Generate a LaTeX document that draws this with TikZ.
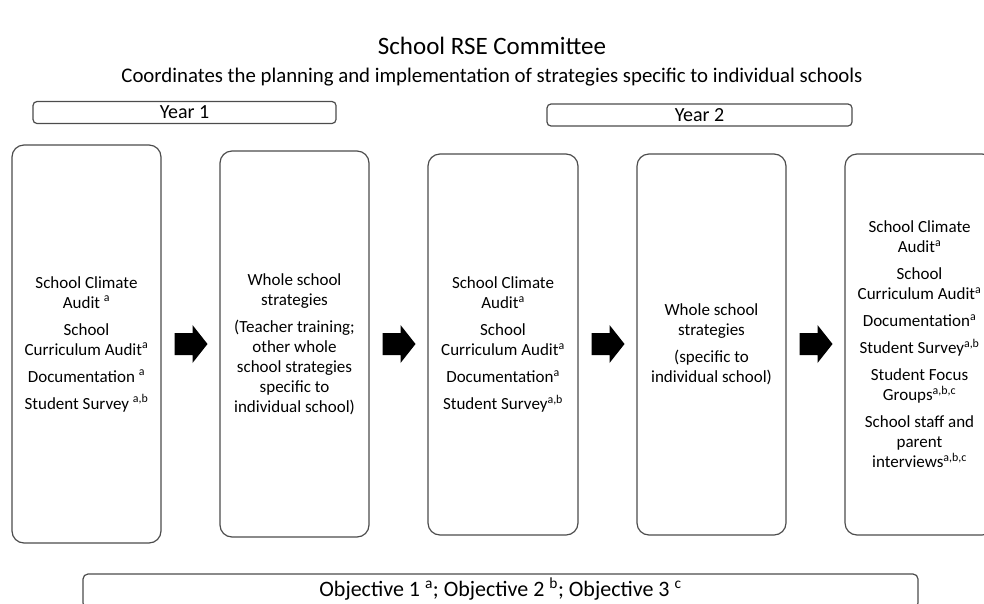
\documentclass[tikz,border=0pt]{standalone}
\usepackage{fontspec}
\setmainfont{Carlito}
\begin{document}
\begin{tikzpicture}[x=1pt,y=-1pt,
  bigbox/.style={draw=black!70, line width=1.2pt, rounded corners=12pt, minimum width=149pt, align=center, inner sep=0pt, font=\fontsize{17}{20}\selectfont},
  yearbox/.style={draw=black!70, line width=1.2pt, rounded corners=4pt, minimum height=22pt, inner sep=0pt, font=\fontsize{20}{22}\selectfont},
  objbox/.style={draw=black!70, line width=1.2pt, rounded corners=5pt, inner sep=0pt}]
\useasboundingbox (0,0) rectangle (984,603);
\node (title) at (492,46) {\fontsize{25}{28}\selectfont School RSE Committee};
\node (sub) at (492,77) {\fontsize{20.8}{23}\selectfont Coordinates the planning and implementation of strategies specific to individual schools};
\node[yearbox, minimum width=303pt] (y1) at (184.5,112.5) {Year 1};
\node[yearbox, minimum width=305pt] (y2) at (699.5,115) {Year 2};
\node[bigbox, minimum height=398pt] (b1) at (86.5,344) {School Climate\\Audit \textsuperscript{a}\\[7pt]School\\Curriculum Audit\textsuperscript{a}\\[7pt]Documentation \textsuperscript{a}\\[7pt]Student Survey \textsuperscript{a,b}};
\node[bigbox, minimum height=386pt] (b2) at (294.5,344) {Whole school\\strategies\\[7pt](Teacher training;\\other whole\\school strategies\\specific to\\individual school)};
\node[bigbox, minimum height=381pt, minimum width=150pt] (b3) at (503,344.5) {School Climate\\Audit\textsuperscript{a}\\[7pt]School\\Curriculum Audit\textsuperscript{a}\\[7pt]Documentation\textsuperscript{a}\\[7pt]Student Survey\textsuperscript{a,b}};
\node[bigbox, minimum height=381pt] (b4) at (711.5,344.5) {Whole school\\strategies\\[7pt](specific to\\individual school)};
\node[bigbox, minimum height=381pt] (b5) at (919.5,344.5) {School Climate\\Audit\textsuperscript{a}\\[7pt]School\\Curriculum Audit\textsuperscript{a}\\[7pt]Documentation\textsuperscript{a}\\[7pt]Student Survey\textsuperscript{a,b}\\[7pt]Student Focus\\Groups\textsuperscript{a,b,c}\\[7pt]School staff and\\parent\\interviews\textsuperscript{a,b,c}};
\node[objbox, minimum width=835pt, minimum height=34pt] (obj) at (500.5,591) {};
\node (objtext) at (500.5,589) {\fontsize{22}{24}\selectfont Objective 1 \textsuperscript{a}; Objective 2 \textsuperscript{b}; Objective 3 \textsuperscript{c}};
\foreach \a/\b/\n in {b1/b2/m1, b2/b3/m2, b3/b4/m3, b4/b5/m4}{
  \path (\a.east |- 0,344) -- (\b.west |- 0,344) coordinate[midway] (\n);
  \fill[black] ([shift={(-16,-11)}]\n) -- ([shift={(2,-11)}]\n) -- ([shift={(2,-19)}]\n) -- ([shift={(17,0)}]\n) -- ([shift={(2,19)}]\n) -- ([shift={(2,11)}]\n) -- ([shift={(-16,11)}]\n) -- cycle;
}
\end{tikzpicture}
\end{document}
